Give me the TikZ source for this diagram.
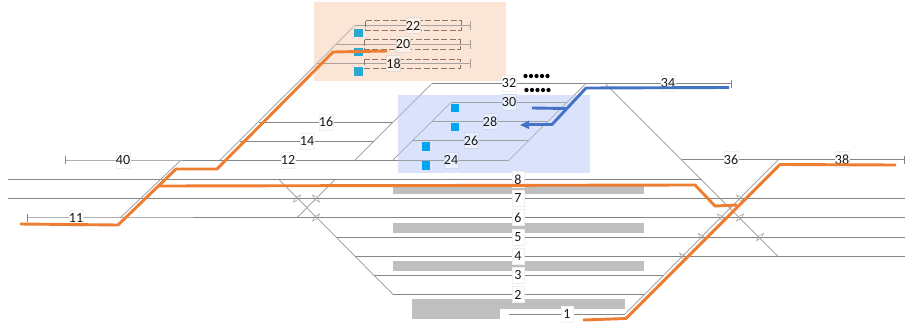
\documentclass[tikz,border=0pt]{standalone}
\usepackage{fontspec}
\setmainfont{Carlito}
\definecolor{trk}{HTML}{858585}
\definecolor{trklight}{HTML}{B0B0B0}
\definecolor{orangeline}{HTML}{ED7D31}
\definecolor{blueline}{HTML}{4472C4}
\definecolor{peach}{HTML}{FBE5D6}
\definecolor{bluetint}{HTML}{DAE3FB}
\definecolor{plat}{HTML}{BFBFBF}
\definecolor{sqpeach}{HTML}{29A9CF}
\definecolor{sqblue}{HTML}{00A6F0}
\definecolor{dashcol}{HTML}{8F7566}
\tikzset{
  x=1pt,y=-1pt,
  track/.style={draw=trk,line width=0.9pt},
  lighttrack/.style={draw=trklight,line width=0.9pt},
  thin diag/.style={draw=trklight!85!black,line width=0.7pt},
  orangepath/.style={draw=orangeline,line width=2.9pt,line join=round},
  bluepath/.style={draw=blueline,line width=2.9pt,line join=round},
  platform/.style={fill=plat,draw=none},
  tint/.style={draw=none},
  veil/.style={draw=none,fill opacity=0.3},
  lab/.style={fill=white,draw=black!6,line width=0.5pt,inner sep=0pt,minimum width=12.5pt,minimum height=16pt,font=\fontsize{14}{15}\selectfont,text=black!90},
  peachlab/.style={lab,fill=peach!50!white,draw=peach!85!black!60},
  bluelab/.style={lab,fill=bluetint!55!white,draw=bluetint!95!black},
  dashbox/.style={draw=dashcol,line width=0.8pt,dash pattern=on 6pt off 2.5pt},
  sq/.style={draw=none,minimum size=8.5pt,inner sep=0pt},
  dot/.style={circle,fill=black,draw=none,minimum size=4.3pt,inner sep=0pt},
  frogmark/.style={draw=trklight!90!black,line width=0.45pt}
}
\newcommand{\frogat}[3]{\draw[frogmark,rotate around={#3:(#1,#2)}] (#1-5,#2)--(#1,#2-1.6)--(#1+5,#2)--(#1,#2+1.6)--cycle;}
\begin{document}
\begin{tikzpicture}
\useasboundingbox (0,0) rectangle (905,324);
% tinted areas
\fill[peach,tint] (314,2) rectangle (506,81);
\fill[bluetint,tint] (398,95) rectangle (590,173);
% platforms
\fill[platform] (393,186) rectangle (644,194);
\fill[platform] (393,222.5) rectangle (644,232.5);
\fill[platform] (393,261) rectangle (644,270.5);
\fill[platform] (412,299) rectangle (625,309);
\fill[platform] (412,309) rectangle (500,319);
% main tracks
\draw[track] (8,179.5)--(702,179.5);
\draw[track] (8,198.5)--(905,198.5);
\draw[lighttrack] (27,217.5)--(193,217.5);
\draw[track] (193,217.5)--(905,217.5);
\draw[track] (336,237)--(905,237);
\draw[track] (355,256.5)--(905,256.5);
\draw[track] (374,275.5)--(664,275.5);
\draw[track] (393,294.5)--(645,294.5);
\draw[track] (509,314)--(625,314);
\draw[lighttrack] (65,160)--(182,160);
\draw[track] (182,160)--(509,160);
\draw[track] (682,159.5)--(905,159.5);
\draw[track] (259,122)--(393,122);
\draw[track] (240,141)--(374,141);
\draw[track] (432,83.5)--(731,83.5);
\draw[track] (355,25.5)--(470.5,25.5);
\draw[track] (336,44.5)--(470.5,44.5);
\draw[track] (317,63.5)--(470.5,63.5);
\draw[track] (451,102.5)--(567,102.5);
\draw[track] (432,121.5)--(548,121.5);
\draw[track] (413,140.5)--(529,140.5);
% end ticks
\draw[track,line width=0.7pt] (65,156)--(65,164);
\draw[track,line width=0.7pt] (27,214)--(27,222);
\draw[track,line width=0.7pt] (731,80)--(731,88);
\draw[track,line width=0.7pt] (904,155.5)--(904,163.5);
\draw[track,line width=0.7pt] (470.5,21)--(470.5,30);
\draw[track,line width=0.7pt] (470.5,40)--(470.5,49);
\draw[track,line width=0.7pt] (470.5,59)--(470.5,68);
% diagonals
\draw[thin diag] (120,218)--(181,160);
\draw[thin diag] (220,160)--(355,25.5);
\draw[thin diag] (355,160)--(432,83.5);
\draw[thin diag] (393,160)--(451,102.5);
\draw[thin diag] (509,160)--(586,83.5);
\draw[thin diag] (605,83.5)--(778,256.5);
\draw[thin diag] (625,314)--(778,160);
\draw[thin diag] (279,179.5)--(393,294.5);
\draw[thin diag] (335,179.5)--(297,217.5);
% crossover marks
\frogat{297}{198.5}{45}
\frogat{316}{198.5}{-45}
\frogat{316}{217.5}{45}
\frogat{740}{198.5}{-45}
\frogat{721}{217.5}{-45}
\frogat{702}{237}{-45}
\frogat{683}{256.5}{-45}
\frogat{740}{217.5}{45}
\frogat{760}{237}{45}
% veils over the lines
\fill[peach,veil] (314,2) rectangle (506,81);
\fill[bluetint,veil] (398,95) rectangle (590,173);
% dashed boxes
\draw[dashbox] (365.5,20.5) rectangle (461,30);
\draw[dashbox] (364.5,39.5) rectangle (460,49);
\draw[dashbox] (364.5,59) rectangle (460,68);
% squares
\node[sq,fill=sqpeach] (s1) at (358.5,33) {};
\node[sq,fill=sqpeach] (s2) at (358.5,52) {};
\node[sq,fill=sqpeach] (s3) at (358.5,71.5) {};
\node[sq,fill=sqblue] (s4) at (455,108) {};
\node[sq,fill=sqblue] (s5) at (455,127) {};
\node[sq,fill=sqblue] (s6) at (426,146.5) {};
\node[sq,fill=sqblue] (s7) at (426,165.5) {};
% dots
\foreach \i in {0,...,4} {
  \node[dot] (da\i) at (525.5+5.5*\i,76) {};
  \node[dot] (db\i) at (526.5+5.5*\i,90) {};
}
% labels
\foreach \t/\a/\b in {8/518/179.5,7/518/198.5,6/518/217.5,5/518/237,4/518/256.5,3/518/275.5,2/518/294.5,1/567/314,11/76/218,40/123/160,12/288/160,14/307/141,16/326/122,32/509/83.5,34/668/83.5,36/731/159.5,38/842/159.5}
  \node[lab] (l\t) at (\a,\b) {\t};
\foreach \t/\a/\b in {22/413/25.5,20/403/44.5,18/393.5/63.5}
  \node[peachlab] (l\t) at (\a,\b) {\t};
\foreach \t/\a/\b in {30/509/102.5,28/490/121.5,26/471/140.5,24/451/160}
  \node[bluelab] (l\t) at (\a,\b) {\t};
% thick routes
\draw[orangepath] (20,224)--(118,225)--(176,169)--(217,169)--(333,52)--(387,51);
\draw[orangepath] (158,186)--(695,185)--(715,206)--(737,205);
\draw[orangepath] (583,320)--(626,318.5)--(780,164.5)--(896,165);
\draw[bluepath] (729,87.5)--(586,88)--(552,124.5)--(527,124.5);
\fill[blueline] (520,125)--(529,120.5)--(529,129)--cycle;
\draw[bluepath] (532,108)--(567,108.5);
\end{tikzpicture}
\end{document}
